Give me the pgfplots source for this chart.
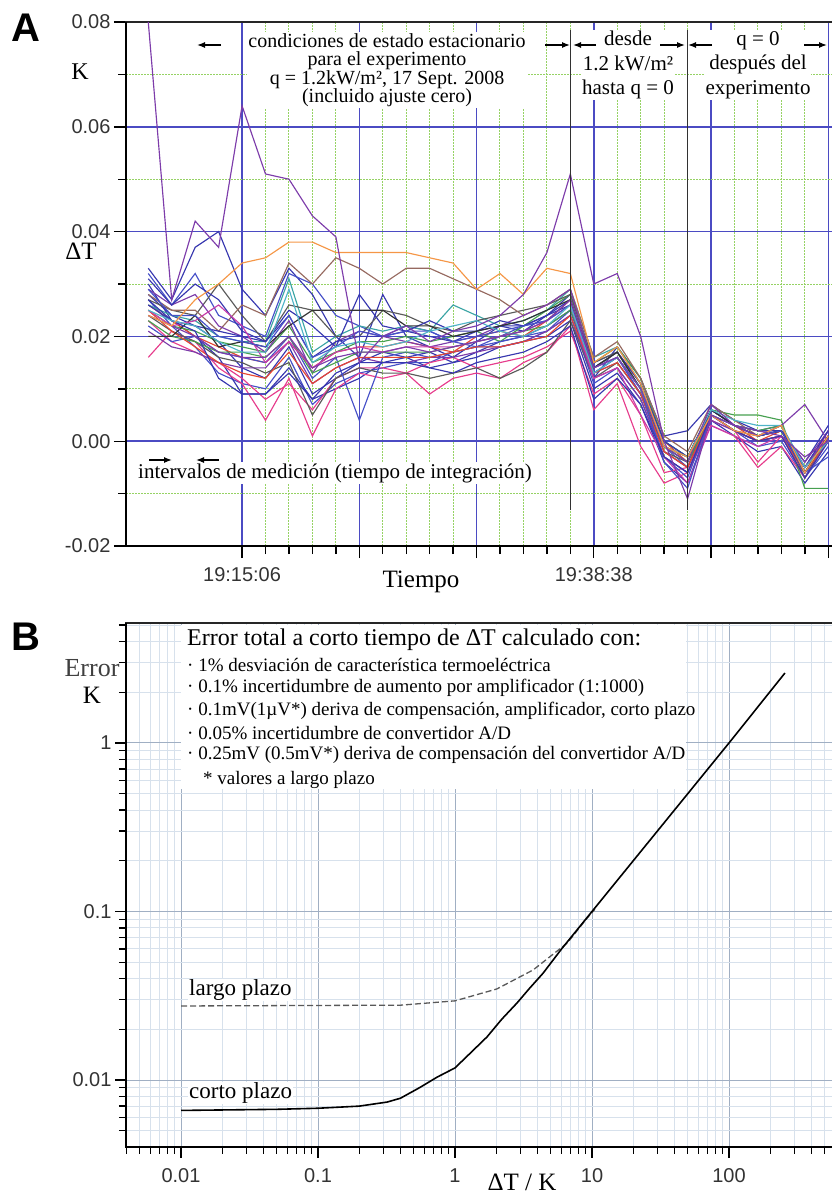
\documentclass[border=0pt]{standalone}
\usepackage{fontspec}
\setmainfont{Liberation Serif}
\setsansfont{Liberation Sans}
\usepackage{pgfplots}
\pgfplotsset{compat=1.18}
\usepackage{pgfplotstable}
\usetikzlibrary{arrows.meta}

\definecolor{cb}{RGB}{55,55,175}
\definecolor{cbb}{RGB}{70,80,200}
\definecolor{cpur}{RGB}{125,60,170}
\definecolor{cpink}{RGB}{230,60,140}
\definecolor{cmag}{RGB}{200,60,170}
\definecolor{cred}{RGB}{230,70,50}
\definecolor{corange}{RGB}{245,150,70}
\definecolor{cgreen}{RGB}{70,160,80}
\definecolor{cteal}{RGB}{60,165,165}
\definecolor{ccyan}{RGB}{80,180,200}
\definecolor{cgray}{RGB}{90,90,90}
\definecolor{cdark}{RGB}{50,50,50}
\definecolor{cbrown}{RGB}{150,105,95}
\definecolor{gblue}{RGB}{75,75,195}
\definecolor{ggreen}{RGB}{150,210,100}
\definecolor{bgmaj}{RGB}{160,175,195}
\definecolor{bgmin}{RGB}{215,225,236}

% values in mK, k = measurement interval index (0 = 19:15:06, 15 = 19:38:38)
\pgfplotstableread{
k s1 s2 s3 s4 s5 s6 s7 s8 s9 s10 s11 s12 s13 s14 s15 s16 s17 s18 s19 s20 s21 s22 s23 s24 s25 s26 s27 s28
-4 33 32 28 27 30 80 16 23 26 24 25 26 24 27 28 29 31 22 21 23 25 26 20 25 29 27 25 24
-3 27 26 24 22 23 27 21 19 23 22 22 24 21 25 25 26 26 19 18 20 21 23 20 22 24 23 23 22
-2 37 32 22 18 20 42 19 17 20 27 21 23 19 24 25 28 30 20 17 19 18 22 24 23 24 21 22 20
-1 40 24 19 13 16 37 14 15 18 30 19 20 16 30 21 22 27 17 15 17 15 21 18 26 20 12 19 17
0 29 22 14 11 9 64 11 12 16 34 18 19 15 24 26 20 21 16 14 17 13 20 19 22 19 9 17 16
1 24 20 12 10 9 51 4 8 15 35 17 19 13 19 24 17 19 15 14 16 12 19 18 15 18 9 17 16
2 33 32 18 16 14 50 12 11 19 38 22 31 15 26 34 23 25 20 19 20 17 24 22 19 24 13 29 20
3 28 30 9 7 8 43 1 6 14 38 15 17 5 25 30 13 22 12 11 13 11 16 25 14 16 8 15 14
4 20 24 12 11 10 39 10 12 17 36 17 20 12 20 35 19 18 16 14 15 14 19 25 17 18 13 18 16
5 16 22 15 13 12 15 13 14 18 36 19 22 14 20 33 21 28 4 16 17 16 20 25 18 21 15 19 17
6 28 20 17 14 15 20 12 14 18 36 19 21 13 25 30 20 22 16 15 17 16 20 25 17 20 15 18 17
7 20 22 16 15 16 22 13 13 19 36 20 22 13 24 33 19 21 17 15 17 16 21 22 18 21 15 19 18
8 18 21 14 15 17 19 9 15 18 35 19 21 12 22 33 18 23 16 16 17 16 20 22 18 21 14 21 17
9 16 19 15 17 15 21 12 16 17 34 20 26 13 21 31 19 21 17 16 18 17 19 20 18 19 13 22 18
10 19 18 17 18 16 22 13 14 20 29 21 24 14 23 29 20 21 18 17 19 18 21 21 19 20 15 23 19
11 22 20 19 18 18 24 12 15 21 32 19 22 12 24 27 22 23 19 18 20 18 22 22 20 21 16 21 20
12 21 22 20 19 19 28 15 16 20 28 22 23 14 25 24 24 22 20 19 21 19 22 23 21 22 17 20 21
13 24 23 22 21 20 36 17 18 23 33 25 25 17 26 26 26 24 21 21 22 20 24 25 23 23 19 22 23
14 28 27 25 24 23 51 22 21 27 32 28 29 23 28 29 29 26 25 24 25 24 27 27 26 26 22 26 27
15 15 13 12 11 10 30 6 9 14 15 15 16 12 15 16 14 13 13 12 14 13 14 14 12 14 8 13 14
16 17 15 18 14 13 32 11 12 17 18 18 18 15 17 19 16 16 16 14 17 15 17 17 14 16 12 16 16
17 11 9 12 8 7 20 -1 5 11 11 12 11 9 10 12 9 10 9 8 10 9 11 10 5 10 7 10 10
18 0 -1 1 -3 -4 0 -8 -6 0 -1 0 -1 -2 -2 1 -2 -1 -3 -3 -1 -2 0 -1 -3 -4 -3 -1 -1
19 -3 -5 2 -6 -8 -11 -6 -5 -4 -3 -3 -3 -4 -5 -2 -5 -4 -7 -6 -4 -5 -3 -3 -8 -9 -6 -3 -4
20 6 5 7 5 4 5 3 4 6 5 6 6 5 6 7 5 6 5 4 5 5 6 6 3 5 5 6 7
21 3 2 4 2 1 3 1 2 3 2 5 3 2 3 4 3 3 2 2 3 2 3 3 1 3 2 4 3
22 2 0 2 -1 -2 2 -5 -4 0 1 5 1 1 1 1 1 2 0 0 2 0 1 1 -1 1 0 3 1
23 3 1 2 0 -1 1 -1 1 2 3 4 2 2 3 2 2 2 1 1 3 1 2 2 1 2 1 3 3
24 -5 -6 -4 -7 -8 -3 -7 -6 -5 -6 -9 -6 -5 -7 -6 -4 -5 -6 -5 -6 -6 -6 -6 -7 -6 -7 -5 7
25 2 0 3 -1 -2 0 1 2 1 1 -9 0 0 1 1 2 2 0 1 1 0 1 1 0 -3 0 0 0
}\dataA

\pgfplotstableread{
x y
0.01 0.0066
0.05 0.0067
0.1 0.0068
0.2 0.0070
0.32 0.0074
0.4 0.0078
0.55 0.0090
0.74 0.0104
1 0.0118
1.3 0.0145
1.71 0.0180
2.2 0.0230
2.83 0.0286
3.5 0.0350
4.39 0.0430
6 0.060
8 0.080
10 0.100
20 0.200
50 0.500
100 1.00
256 2.60
}\shortterm

\pgfplotstableread{
x y
0.01 0.0275
0.1 0.0277
0.4 0.0278
1 0.0295
2.02 0.0347
3.72 0.0450
6.6 0.0650
9.2 0.0912
10.5 0.1030
}\longterm

\newcommand{\ser}[2]{\addplot[#1, line width=1.15pt] table[x=k,y=#2]{\dataA};}

\begin{document}
\begin{tikzpicture}
\useasboundingbox (0pt,0pt) rectangle (832pt,-1194pt);

% ---------------- Panel A ----------------
\begin{axis}[
  at={(126pt,-546pt)}, anchor=south west, scale only axis,
  width=710pt, height=524pt,
  xmin=-4.95, xmax=25.33, ymin=-20, ymax=80,
  xtick={0,5,...,25}, xticklabels={19:15:06,,,19:38:38,,},
  minor x tick num=4,
  ytick={-20,0,...,80}, yticklabels={-0.02,0.00,0.02,0.04,0.06,0.08},
  minor y tick num=1,
  grid=both,
  major grid style={draw=gblue, line width=1.5pt},
  minor grid style={draw=ggreen, line width=1pt, dash pattern=on 2pt off 1pt},
  tick align=outside, xtick pos=left, ytick pos=left,
  major tick length=12pt, minor tick length=8pt,
  tick style={black, line width=1.4pt},
  axis line style={draw=black!85, line width=1.6pt},
  ticklabel style={font=\sffamily\fontsize{20}{20}\selectfont, text=black!80},
  xticklabel style={yshift=-6pt},
  clip=false,
]
\ser{cb}{s1}
\ser{cbb}{s2}
\ser{cb}{s3}
\ser{cbb}{s4}
\ser{cb}{s5}
\ser{cpink}{s7}
\ser{cpink}{s8}
\ser{cred}{s9}
\ser{cgreen}{s11}
\ser{cteal}{s12}
\ser{cgray}{s13}
\ser{cgray}{s14}
\ser{cbrown}{s15}
\ser{cpur}{s16}
\ser{cb}{s17}
\ser{cbb}{s18}
\ser{cpur}{s19}
\ser{cgreen}{s20}
\ser{cred}{s21}
\ser{cb}{s22}
\ser{cdark}{s23}
\ser{cmag}{s24}
\ser{cbb}{s25}
\ser{cb}{s26}
\ser{ccyan}{s27}
\ser{cpur}{s28}
\ser{corange}{s10}
\ser{cpur}{s6}
\addplot[cdark, line width=1.6pt] coordinates {(14,-13.2) (14,78.5)};
\addplot[cdark, line width=1.6pt] coordinates {(19,-13.2) (19,78.5)};
\draw[black, line width=2.6pt] (rel axis cs:0,1) -- (rel axis cs:0,0) -- (rel axis cs:1,0);
\end{axis}

% ---------------- Panel B ----------------
\begin{axis}[
  at={(126pt,-1147pt)}, anchor=south west, scale only axis,
  width=710pt, height=524pt,
  xmode=log, ymode=log,
  xmin=0.003968, xmax=604, ymin=0.004003, ymax=5.15,
  xtick={0.01,0.1,1,10,100}, xticklabels={0.01,0.1,1,10,100},
  ytick={0.01,0.1,1}, yticklabels={0.01,0.1,1},
  minor xtick={0.004,0.005,0.006,0.007,0.008,0.009,0.02,0.03,0.04,0.05,0.06,0.07,0.08,0.09,0.2,0.3,0.4,0.5,0.6,0.7,0.8,0.9,2,3,4,5,6,7,8,9,20,30,40,50,60,70,80,90,200,300,400,500,600},
  minor ytick={0.005,0.006,0.007,0.008,0.009,0.02,0.03,0.04,0.05,0.06,0.07,0.08,0.09,0.2,0.3,0.4,0.5,0.6,0.7,0.8,0.9,2,3,4,5},
  grid=both,
  major grid style={draw=bgmaj, line width=1pt},
  minor grid style={draw=bgmin, line width=0.8pt},
  tick align=outside, xtick pos=left, ytick pos=left,
  major tick length=11pt, minor tick length=7pt,
  tick style={black, line width=1.4pt},
  axis line style={draw=black!85, line width=1.6pt},
  ticklabel style={font=\sffamily\fontsize{20}{20}\selectfont, text=black!80},
  xticklabel style={yshift=-7pt},
  clip=false,
]
\addplot[black!65, line width=1.3pt, dash pattern=on 6pt off 3pt] table[x=x,y=y]{\longterm};
\addplot[black, line width=1.6pt] table[x=x,y=y]{\shortterm};
\draw[black, line width=2.6pt] (rel axis cs:0,1) -- (rel axis cs:0,0) -- (rel axis cs:1,0);
\end{axis}

% ---------------- Annotations A ----------------
\node[font=\sffamily\bfseries\fontsize{40}{40}\selectfont] at (26pt,-28pt) {A};
\node[font=\fontsize{24}{24}\selectfont] at (80pt,-72pt) {K};
\node[font=\fontsize{25}{25}\selectfont] at (81pt,-251pt) {ΔT};
\node[font=\fontsize{25}{25}\selectfont] at (421pt,-582pt) {Tiempo};

\node[fill=white, inner sep=1pt, align=center, font=\fontsize{20}{18.5}\selectfont] at (387pt,-70pt)
  {condiciones de estado estacionario\\para el experimento\\q = 1.2kW/m², 17 Sept. 2008\\(incluido ajuste cero)};
\node[fill=white, inner sep=1pt, align=center, font=\fontsize{21}{24.5}\selectfont] at (628pt,-65pt)
  {desde\\1.2 kW/m²\\hasta q = 0};
\node[fill=white, inner sep=1pt, align=center, font=\fontsize{21}{24.5}\selectfont] at (758pt,-65pt)
  {q = 0\\después del\\experimento};
\node[fill=white, inner sep=1pt, font=\fontsize{21}{21}\selectfont] at (335pt,-473pt)
  {intervalos de medición (tiempo de integración)};

\begin{scope}[line width=1.3pt, -{Latex[length=8pt,width=6pt]}]
\draw (221pt,-45pt) -- (197pt,-45pt);
\draw (545pt,-45pt) -- (570pt,-45pt);
\draw (596pt,-45pt) -- (573pt,-45pt);
\draw (660pt,-45pt) -- (685pt,-45pt);
\draw (712pt,-45pt) -- (688pt,-45pt);
\draw (804pt,-45pt) -- (827pt,-45pt);
\draw (149pt,-460pt) -- (172pt,-460pt);
\draw (219pt,-460pt) -- (196pt,-460pt);
\end{scope}

% ---------------- Annotations B ----------------
\node[font=\sffamily\bfseries\fontsize{40}{40}\selectfont] at (26pt,-637pt) {B};
\node[font=\fontsize{26}{26}\selectfont, text=black!75] at (92pt,-668pt) {Error};
\node[font=\fontsize{25}{25}\selectfont] at (92pt,-695pt) {K};
\node[font=\fontsize{25}{25}\selectfont] at (522pt,-1182pt) {ΔT / K};

\fill[white] (181pt,-625pt) rectangle (686pt,-789pt);
\node[anchor=west, inner sep=0pt, font=\fontsize{24}{24}\selectfont] at (187pt,-640pt) {Error total a corto tiempo de ΔT calculado con:};
\begin{scope}[every node/.style={anchor=west, inner sep=0pt, font=\fontsize{19}{19}\selectfont}]
\node at (187pt,-665pt) {· 1\% desviación de característica termoeléctrica};
\node at (187pt,-688pt) {· 0.1\% incertidumbre de aumento por amplificador (1:1000)};
\node at (187pt,-711pt) {· 0.1mV(1µV*) deriva de compensación, amplificador, corto plazo};
\node at (187pt,-733pt) {· 0.05\% incertidumbre de convertidor A/D};
\node at (187pt,-755pt) {· 0.25mV (0.5mV*) deriva de compensación del convertidor A/D};
\node at (203pt,-780pt) {* valores a largo plazo};
\end{scope}
\node[fill=white, inner sep=1pt, anchor=west, font=\fontsize{23}{23}\selectfont] at (188pt,-990pt) {largo plazo};
\node[fill=white, inner sep=1pt, anchor=west, font=\fontsize{23}{23}\selectfont] at (188pt,-1093pt) {corto plazo};
\end{tikzpicture}
\end{document}
